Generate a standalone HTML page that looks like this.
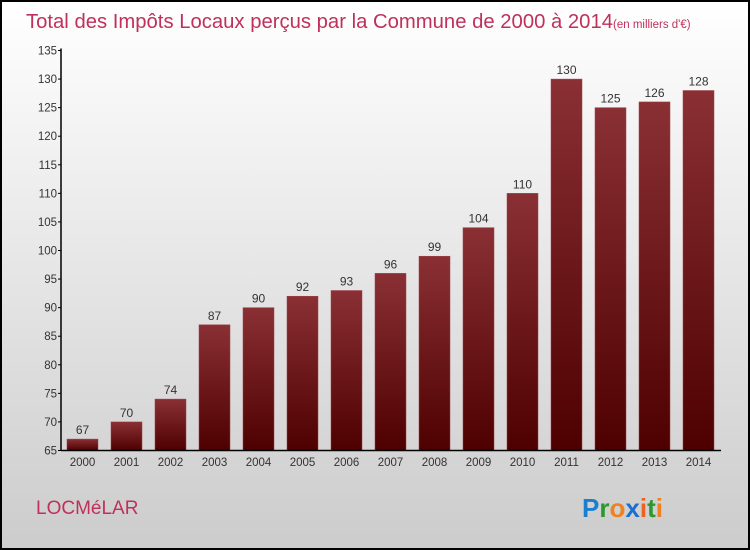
<!DOCTYPE html>
<html><head><meta charset="utf-8"><style>
body{margin:0;width:750px;height:550px;overflow:hidden}
svg{display:block}
text{font-family:"Liberation Sans",sans-serif}
</style></head><body>
<svg id="chart" width="750" height="550">
<defs>
<linearGradient id="bg" x1="0" y1="0" x2="0" y2="1"><stop offset="0" stop-color="#ffffff"/><stop offset="1" stop-color="#cccccc"/></linearGradient>
<linearGradient id="bar" x1="0" y1="0" x2="0" y2="1"><stop offset="0" stop-color="#8a3035"/><stop offset="1" stop-color="#4e0000"/></linearGradient>
</defs>
<rect x="1" y="1" width="748" height="548" fill="url(#bg)" stroke="#000" stroke-width="2"/>
<text x="26" y="28" font-size="20" fill="#c0305c"><tspan textLength="587" lengthAdjust="spacingAndGlyphs">Total des Impôts Locaux perçus par la Commune de 2000 à 2014</tspan><tspan font-size="11.5">(en milliers d'€)</tspan></text>
<text x="36" y="514" font-size="19" fill="#c0305c">LOCMéLAR</text>
<text x="582" y="517" font-size="26" font-weight="bold"><tspan fill="#1a7fd0">P</tspan><tspan fill="#2a9a30">r</tspan><tspan fill="#f08020">o</tspan><tspan fill="#1a6fd0">x</tspan><tspan fill="#f06020">i</tspan><tspan fill="#2a9a30">t</tspan><tspan fill="#f08020">i</tspan></text>
<g id="plot"></g>
</svg>
<script>
const years=["2000","2001","2002","2003","2004","2005","2006","2007","2008","2009","2010","2011","2012","2013","2014"];
const values=[67,70,74,87,90,92,93,96,99,104,110,130,125,126,128];
const yTicks=[65,70,75,80,85,90,95,100,105,110,115,120,125,130,135];
const NS="http://www.w3.org/2000/svg";
const g=document.getElementById('plot');
const yMin=65,yMax=135,plotTop=50.5,plotBot=450.5;
const yS=v=>plotBot-(v-yMin)/(yMax-yMin)*(plotBot-plotTop);
const xS=i=>82.5+i*44;
function mk(t,a){const e=document.createElementNS(NS,t);for(const k in a)e.setAttribute(k,a[k]);g.appendChild(e);return e;}
values.forEach((v,i)=>{
 const r=mk('rect',{x:xS(i)-15.5,y:yS(v),width:31,height:plotBot-yS(v),fill:'url(#bar)',stroke:'#a04048','stroke-width':0.5});
 
 
 const t=mk('text',{x:xS(i),y:yS(v)-5,'font-size':12,fill:'#333','text-anchor':'middle'});
 t.textContent=v;
 
 
 const xl=mk('text',{x:xS(i),y:466,'font-size':11.5,fill:'#333','text-anchor':'middle'});
 xl.textContent=years[i];
 
 
});
yTicks.forEach(v=>{
 const l=mk('line',{x1:58,x2:61,y1:yS(v),y2:yS(v),stroke:'#000'});
 
 
 const t=mk('text',{x:57,y:yS(v)+4,'font-size':11.5,fill:'#333','text-anchor':'end'});
 t.textContent=v;
 
 
});
const ya=mk('line',{x1:61,x2:61,y1:plotTop-2,y2:plotBot,stroke:'#000','stroke-width':1.5});


const xa=mk('line',{x1:61,x2:721,y1:plotBot,y2:plotBot,stroke:'#000','stroke-width':1.5});


</script>
</body></html>
